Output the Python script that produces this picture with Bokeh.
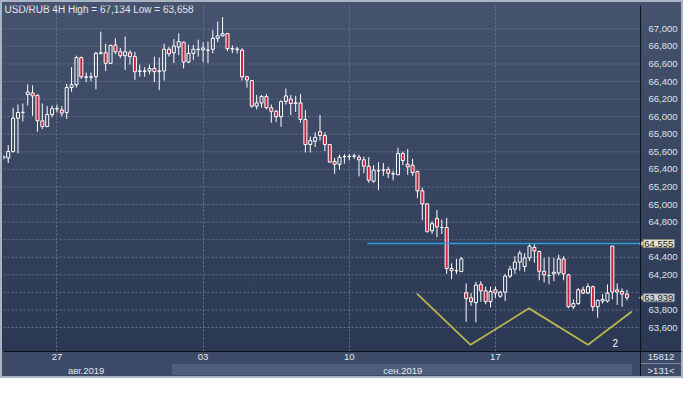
import numpy as np
from bokeh.plotting import figure
from bokeh.models import (ColumnDataSource, FixedTicker, LinearAxis, Range1d, Label,
                          NumeralTickFormatter, Span)
from bokeh.embed import file_html
from bokeh.resources import INLINE

# ---- data (USD/RUB, 4H candles) ----
open_ = [65530, 65530, 65603, 65982, 66047, 66251, 66269, 66243, 65952, 65887,
         66025, 66088, 66076, 66047, 66331, 66363, 66672, 66452, 66449, 66454,
         66720, 66727, 66607, 66814, 66738, 66694, 66727, 66683, 66516, 66520,
         66520, 66549, 66516, 66520, 66767, 66727, 66792, 66847, 66621, 66720,
         66763, 66760, 66756, 66767, 66891, 66920, 66945, 66774, 66770, 66756,
         66454, 66410, 66120, 66156, 66229, 66101, 66061, 65999, 66174, 66200,
         66156, 66156, 65967, 65683, 65720, 65829, 65785, 65683, 65490, 65458,
         65545, 65545, 65550, 65538, 65509, 65436, 65265, 65385, 65392, 65400,
         65349, 65338, 65581, 65458, 65447, 65374, 65156, 65007, 64701, 64840,
         64738, 64738, 64272, 64247, 64236, 63996, 63938, 63883, 64091, 64018,
         63894, 64029, 63956, 64003, 64185, 64265, 64345, 64294, 64392, 64512,
         64465, 64240, 64192, 64211, 64221, 64381, 64200, 63836, 63872, 64029,
         63992, 64065, 63836, 63901, 63901, 64527, 64029, 64011, 63981]
high = [65565, 65676, 66101, 66138, 66149, 66367, 66356, 66250, 66149, 66120,
        66127, 66138, 66120, 66374, 66563, 66694, 66683, 66502, 66502, 66738,
        66967, 66829, 66818, 66891, 66781, 66912, 66756, 66738, 66592, 66563,
        66592, 66683, 66672, 66829, 66792, 66883, 66949, 66854, 66818, 66818,
        66876, 66847, 66854, 66985, 67083, 67134, 66949, 66810, 66792, 66781,
        66465, 66418, 66247, 66247, 66258, 66138, 66076, 66185, 66320, 66247,
        66236, 66258, 66076, 65774, 65821, 66018, 65821, 65690, 65530, 65567,
        65574, 65574, 65581, 65567, 65545, 65538, 65447, 65483, 65472, 65429,
        65385, 65647, 65603, 65629, 65520, 65385, 65192, 65014, 64810, 64938,
        64829, 64847, 64330, 64381, 64403, 64101, 63992, 64120, 64127, 64065,
        64065, 64065, 64018, 64211, 64302, 64411, 64476, 64447, 64549, 64549,
        64476, 64392, 64403, 64392, 64429, 64411, 64211, 63920, 64047, 64065,
        64101, 64076, 63920, 63981, 64091, 64530, 64101, 64047, 64029]
low = [65510, 65472, 65590, 65581, 65945, 66127, 66011, 65829, 65858, 65880,
       65992, 66047, 66003, 65974, 66283, 66331, 66429, 66392, 66403, 66309,
       66709, 66520, 66600, 66709, 66665, 66531, 66592, 66418, 66454, 66454,
       66483, 66392, 66302, 66410, 66683, 66610, 66701, 66549, 66610, 66647,
       66683, 66621, 66610, 66720, 66847, 66912, 66745, 66720, 66720, 66410,
       66330, 66101, 66083, 66101, 66083, 65930, 65938, 65883, 66138, 66018,
       66054, 65930, 65592, 65592, 65654, 65727, 65610, 65472, 65349, 65400,
       65465, 65501, 65520, 65320, 65356, 65247, 65247, 65163, 65327, 65301,
       65276, 65338, 65447, 65338, 65327, 65072, 64821, 64683, 64665, 64629,
       64665, 64210, 64149, 64210, 64236, 63665, 63847, 63658, 63894, 63865,
       63829, 63938, 63938, 63901, 64163, 64211, 64247, 64236, 64356, 64338,
       64138, 64112, 64091, 64127, 64192, 64138, 63821, 63811, 63858, 63981,
       63981, 63785, 63712, 63872, 63883, 63920, 63858, 63836, 63909]
close = [65545, 65603, 65982, 66047, 66050, 66280, 66236, 65952, 65887, 66025,
         66091, 66092, 66040, 66331, 66363, 66672, 66454, 66449, 66452, 66720,
         66727, 66607, 66811, 66738, 66694, 66738, 66683, 66512, 66520, 66516,
         66549, 66512, 66520, 66767, 66716, 66803, 66854, 66621, 66720, 66767,
         66767, 66781, 66756, 66891, 66920, 66945, 66774, 66770, 66763, 66454,
         66418, 66120, 66156, 66229, 66101, 66061, 65999, 66171, 66236, 66149,
         66152, 65967, 65683, 65727, 65763, 65785, 65683, 65483, 65458, 65538,
         65545, 65548, 65552, 65509, 65436, 65276, 65392, 65385, 65392, 65356,
         65349, 65581, 65501, 65429, 65363, 65156, 65007, 64690, 64781, 64745,
         64738, 64272, 64247, 64247, 64381, 63930, 63894, 64083, 64018, 63894,
         64011, 63992, 64003, 64185, 64265, 64345, 64447, 64392, 64527, 64472,
         64240, 64200, 64192, 64229, 64381, 64211, 63836, 63872, 64029, 63992,
         64065, 63836, 63909, 63920, 63992, 64003, 64003, 63981, 63939]
candle_idx = list(range(len(open_)))

price_ticks = list(range(63600, 67001, 200))
day_tick_idx = [11, 41, 71, 101]
day_labels = ["27", "03", "10", "17"]
month_tick_idx = [17, 82]
month_labels = ["авг.2019", "сен.2019"]

level_price = 64555
level_start_idx = 74.7
last_price = close[-1]

pattern_x = [84.9, 95.9, 107.9, 120.0, 129.0]
pattern_y = [63985, 63403, 63818, 63403, 63782]

info_top, info_bottom = "15812", ">131<"

# ---- layout constants (chart area ends at SEP, price scale to its right) ----
X0, SEP, X1 = 0.03, 130.8, 139.2
info_x = 135.0

# ---- derived columns ----
o = np.array(open_, float); c = np.array(close, float)
top = np.maximum(o, c); bot = np.minimum(o, c)
bear = c < o
src = ColumnDataSource(dict(
    x=candle_idx, high=high, low=low, top=top, bot=bot,
    fill=["#c8203e" if b else "#ffffff" for b in bear],
    alpha=[1.0 if b else 0.0 for b in bear],
))
tag_prices = [level_price, last_price]
# scale labels covered by the price tags
covered = {t: "" for t in price_ticks if any(abs(t - v) < 100 for v in tag_prices)}

W, H = 683, 378
FONT = "Liberation Sans"
p = figure(width=W, height=H, output_backend="svg", toolbar_location=None, title=None,
           x_range=Range1d(X0, X1), y_range=Range1d(63327, 67265),
           y_axis_location="right", min_border_left=3, min_border_right=2,
           min_border_top=5, min_border_bottom=27)

p.background_fill_alpha = 0
p.border_fill_alpha = 0
p.outline_line_color = None
p.styles = {
    "background": ("linear-gradient(#0b101b, #0b101b) 640px 351px / 1px 27px no-repeat, "
                   "linear-gradient(#7e8aa0, #7e8aa0) 641px 363px / 40px 1px no-repeat, "
                   "linear-gradient(#4e5d7b, #4e5d7b) 172px 364px / 460px 11px no-repeat, "
                   "linear-gradient(to bottom, #45536f 0px, #2b3854 351px, #3c4a67 351px, #3c4a67 378px)"),
    "box-shadow": "inset 0 0 0 2px #a9b3c4",
}

# grids (horizontal grid only over the chart area)
p.xgrid.ticker = FixedTicker(ticks=day_tick_idx)
p.xgrid.grid_line_color = "#66748f"
p.xgrid.grid_line_dash = "2 2"
p.ygrid.visible = False
p.segment(x0=[X0] * len(price_ticks), x1=[SEP] * len(price_ticks), y0=price_ticks, y1=price_ticks,
          line_color="#66748f", line_dash="2 2", line_width=1)

# price scale: right axis drawn back over the scale strip
yax = p.yaxis[0]
yax.ticker = FixedTicker(ticks=price_ticks)
yax.formatter = NumeralTickFormatter(format="0,0")
yax.major_label_overrides = covered
yax.major_label_text_font = FONT
yax.major_label_text_font_size = "9.5px"
yax.major_label_text_color = "#dde2ea"
yax.major_tick_line_color = None
yax.minor_tick_line_color = None
yax.axis_line_color = None
yax.major_label_standoff = -39

# bottom day axis
xax = p.xaxis[0]
xax.ticker = FixedTicker(ticks=day_tick_idx + [info_x])
xax.major_label_overrides = {**{k: s for k, s in zip(day_tick_idx, day_labels)}, info_x: info_top}
# month axis
max2 = LinearAxis(ticker=FixedTicker(ticks=month_tick_idx + [info_x]),
                  major_label_overrides={**{k: s for k, s in zip(month_tick_idx, month_labels)},
                                         info_x: info_bottom})
p.add_layout(max2, "below")
for ax in (xax, max2):
    ax.major_label_text_font = FONT
    ax.major_label_text_font_size = "9.5px"
    ax.major_label_text_color = "#e4e8ee"
    ax.major_tick_line_color = None
    ax.minor_tick_line_color = None
    ax.major_tick_out = 0
    ax.major_label_standoff = 2
xax.axis_line_color = "#0b101b"
max2.axis_line_color = None

# separator between chart and price scale
p.add_layout(Span(location=SEP, dimension="height", line_color="#0b101b", line_width=1))

# candles
p.segment(x0="x", y0="top", x1="x", y1="high", source=src, line_color="white", line_width=1)
p.segment(x0="x", y0="bot", x1="x", y1="low", source=src, line_color="white", line_width=1)
p.vbar(x="x", width=0.62, top="top", bottom="bot", source=src,
       fill_color="fill", fill_alpha="alpha", line_color="white", line_width=1)

# level and pattern
p.line(x=[level_start_idx, SEP + 0.4], y=[level_price, level_price], line_color="#2b9ee0", line_width=1.5)
p.line(x=pattern_x, y=pattern_y, line_color="#b8b64a", line_width=1.8)

# texts
title = f"USD/RUB 4H High = {max(high):,} Low = {min(low):,}"
p.add_layout(Label(x=0.25, y=67221, text=title, text_baseline="middle", text_font=FONT,
                   text_font_size="10px", text_color="#e4e8ee"))
p.add_layout(Label(x=125.6, y=63425, text="2", text_align="center", text_baseline="middle",
                   text_font=FONT, text_font_size="10px", text_color="#ffffff"))

# price tags on the scale
for val, bg, bd in ((level_price, "#e8e8d2", "#8c8c78"), (last_price, "#d2d6dc", "#80848c")):
    p.scatter(x=[SEP + 0.45], y=[val], marker="triangle", angle=np.pi / 2, size=7,
              fill_color=bg, line_color=bd)
    p.add_layout(Label(x=SEP + 0.55, y=val, text=f"{val:,}", text_baseline="middle",
                       text_font=FONT, text_font_size="9.5px", text_color="#1a1a1a",
                       background_fill_color=bg, border_line_color=bd, padding=1))

open("out.html", "w").write(file_html(p, INLINE))
